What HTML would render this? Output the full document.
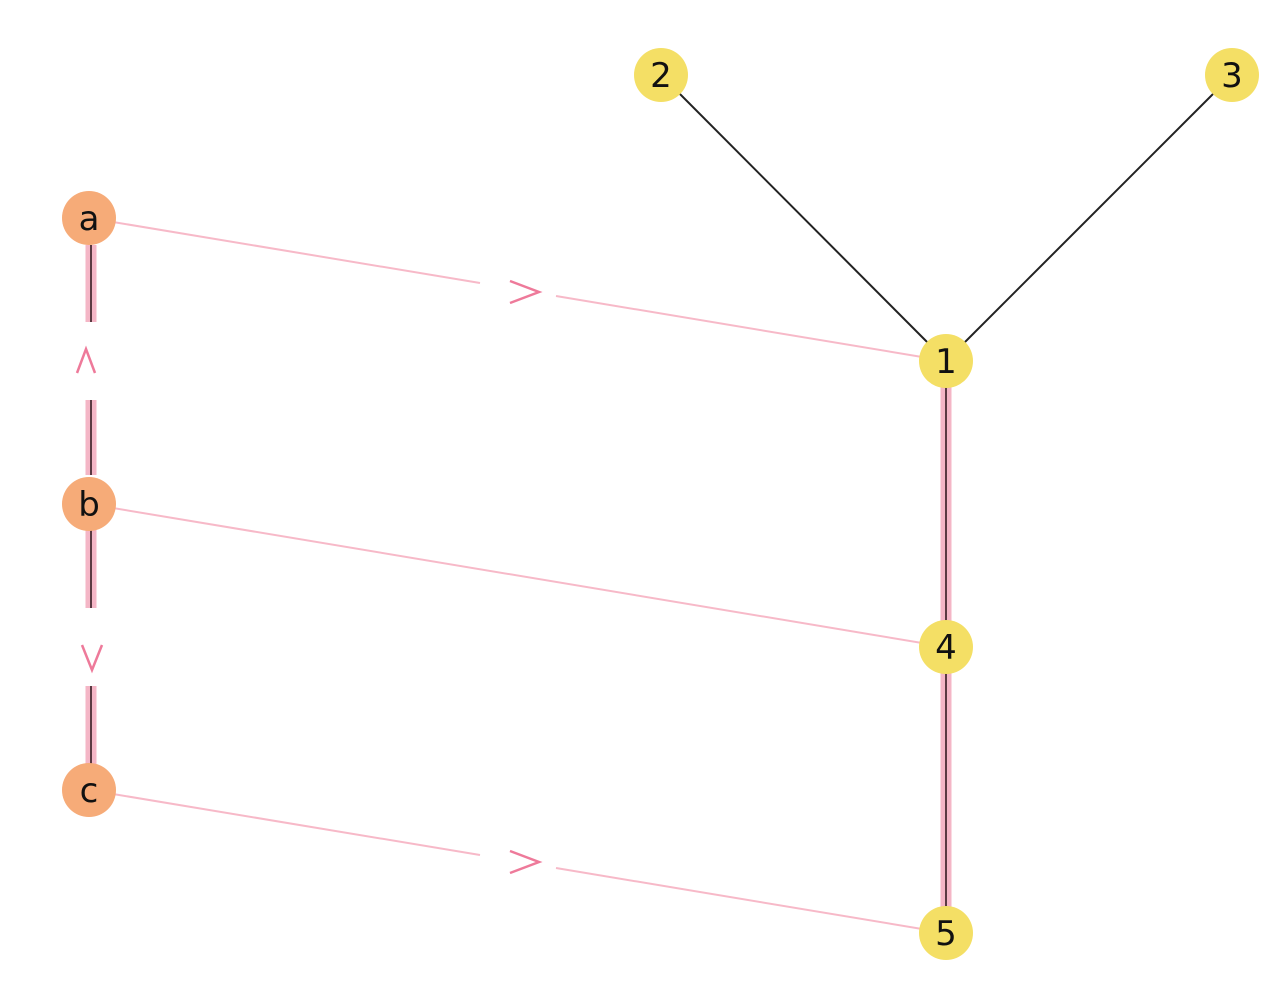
<!DOCTYPE html>
<html><head><style>body{margin:0;background:#fff}</style></head><body>
<svg width="1280" height="1000" xmlns="http://www.w3.org/2000/svg" font-family="DejaVu Sans, Liberation Sans, sans-serif">
<rect width="1280" height="1000" fill="#fff"/>
<line x1="661" y1="75" x2="946" y2="361" stroke="#222" stroke-width="2"/>
<line x1="1232" y1="75" x2="946" y2="361" stroke="#222" stroke-width="2"/>
<g stroke-linecap="butt">
<line x1="946" y1="361" x2="946" y2="933" stroke="#f4b6c6" stroke-width="11"/>
<line x1="946" y1="361" x2="946" y2="933" stroke="#5a3a42" stroke-width="2"/>
<g stroke="#f4b6c6" stroke-width="11">
<line x1="91" y1="245" x2="91" y2="322"/><line x1="91" y1="400" x2="91" y2="475"/>
<line x1="91" y1="530" x2="91" y2="608"/><line x1="91" y1="686" x2="91" y2="765"/>
</g>
<g stroke="#5a3a42" stroke-width="2">
<line x1="91" y1="245" x2="91" y2="322"/><line x1="91" y1="400" x2="91" y2="475"/>
<line x1="91" y1="530" x2="91" y2="608"/><line x1="91" y1="686" x2="91" y2="765"/>
</g>
</g>
<g stroke="#f7b9c8" stroke-width="2">
<line x1="89" y1="218" x2="480" y2="283"/><line x1="556" y1="296" x2="946" y2="361"/>
<line x1="89" y1="504" x2="946" y2="647"/>
<line x1="89" y1="790" x2="480" y2="855"/><line x1="556" y1="868" x2="946" y2="933"/>
</g>
<g stroke="#ee7a9a" stroke-width="2.5" fill="none">
<polyline points="510,281 539,292 510,303"/>
<polyline points="510,851 539,862 510,873"/>
<polyline points="77,373 86,349 95,373"/>
<polyline points="82,645 92,670 102,645"/>
</g>
<g fill="#f6ab78">
<circle cx="89" cy="218" r="27"/><circle cx="89" cy="504" r="27"/><circle cx="89" cy="790" r="27"/>
</g>
<g fill="#f4df65">
<circle cx="946" cy="361" r="27"/><circle cx="661" cy="75" r="27"/><circle cx="1232" cy="75" r="27"/>
<circle cx="946" cy="647" r="27"/><circle cx="946" cy="933" r="27"/>
</g>
<g font-size="34" text-anchor="middle" fill="#111">
<text x="89" y="230">a</text><text x="89" y="516">b</text><text x="89" y="802">c</text>
<text x="946" y="373">1</text><text x="661" y="87">2</text><text x="1232" y="87">3</text>
<text x="946" y="659">4</text><text x="946" y="945">5</text>
</g>
</svg>
</body></html>
